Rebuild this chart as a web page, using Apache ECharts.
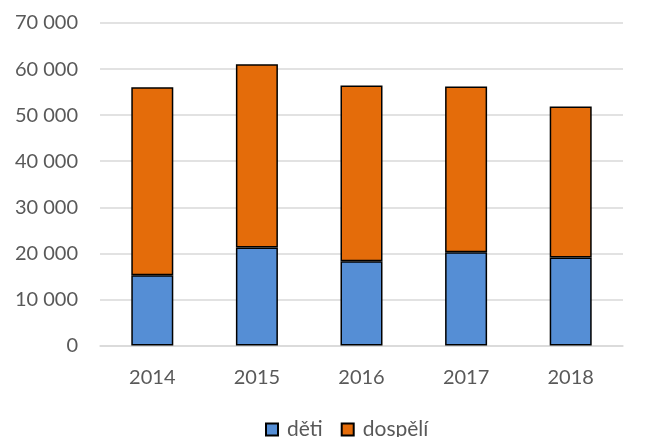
<!DOCTYPE html>
<html lang="cs">
<head>
<meta charset="utf-8">
<title>Děti a dospělí</title>
<script src="https://cdn.jsdelivr.net/npm/echarts@6/dist/echarts.min.js"></script>
<style>
  html, body { margin: 0; padding: 0; background: #fff; }
  #chart { width: 654px; height: 437px; }
</style>
</head>
<body>
<div id="chart"></div>
<script>
var years = ['2014', '2015', '2016', '2017', '2018'];
var deti = [15260, 21260, 18300, 20260, 19090];
var dospeli = [40780, 39780, 38110, 35940, 32760];

function fmt(v) {
  return String(v).replace(/\B(?=(\d{3})+(?!\d))/g, ' ');
}

var chart = echarts.init(document.getElementById('chart'));
chart.setOption({
  animation: false,
  textStyle: { fontFamily: 'Lato, sans-serif' },
  grid: { left: 100, right: 31, top: 23, bottom: 91.5, containLabel: false },
  legend: {
    top: 414,
    left: 260,
    itemWidth: 12,
    itemHeight: 12,
    itemGap: 18,
    icon: 'rect',
    textStyle: { fontSize: 21, color: '#595959', fontFamily: 'Lato, sans-serif', padding: [0, 0, 0, 4] },
    data: ['děti', 'dospělí']
  },
  xAxis: {
    type: 'category',
    data: years,
    axisTick: { show: false },
    axisLine: { lineStyle: { color: '#d9d9d9', width: 1.5 } },
    axisLabel: { fontSize: 20, color: '#595959', margin: 22 }
  },
  yAxis: {
    type: 'value',
    min: 0,
    max: 70000,
    interval: 10000,
    axisLine: { show: false },
    axisTick: { show: false },
    splitLine: { lineStyle: { color: '#d9d9d9', width: 1.5 } },
    axisLabel: { fontSize: 20, color: '#595959', margin: 22, formatter: fmt }
  },
  series: [
    {
      name: 'děti',
      type: 'bar',
      stack: 'total',
      barWidth: 42,
      data: deti,
      itemStyle: { color: '#558ed5', borderColor: '#000', borderWidth: 1.5 }
    },
    {
      name: 'dospělí',
      type: 'bar',
      stack: 'total',
      barWidth: 42,
      data: dospeli,
      itemStyle: { color: '#e46c0a', borderColor: '#000', borderWidth: 1.5 }
    }
  ]
});
</script>
</body>
</html>
